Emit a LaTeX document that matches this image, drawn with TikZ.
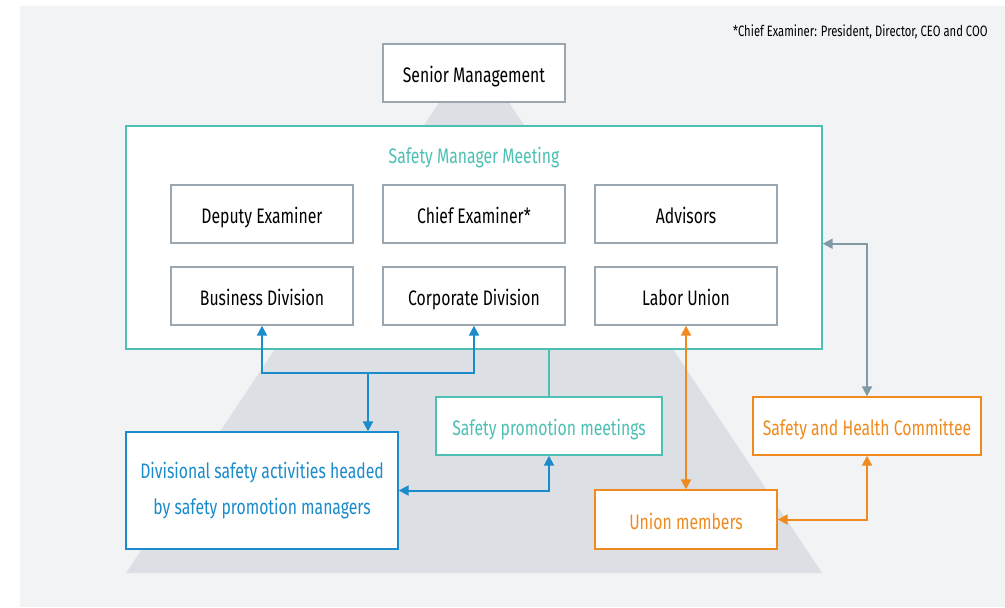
\documentclass[tikz,border=0pt]{standalone}
\usepackage{fontspec}
\setmainfont{Fira Sans}[FakeStretch=0.75]
\usetikzlibrary{arrows.meta,positioning}
\definecolor{bggray}{HTML}{F2F3F5}
\definecolor{pyramid}{HTML}{DCE0E4}
\definecolor{boxgray}{HTML}{9AA6B0}
\definecolor{tealc}{HTML}{4DC0B3}
\definecolor{bluec}{HTML}{1A8BCB}
\definecolor{orangec}{HTML}{EE8A1F}
\definecolor{slatec}{HTML}{8499A6}

\begin{document}
\begin{tikzpicture}[x=0.5pt,y=-0.5pt,
    frame/.style={draw=boxgray, fill=white, line width=0.7pt, inner sep=0pt, font=\fontsize{10.5}{12}\selectfont},
    box/.style={frame, minimum width=91pt, minimum height=29pt, text height=10.5pt, text depth=0.8pt},
    tealbox/.style={box, draw=tealc, text=tealc},
    bluebox/.style={frame, draw=bluec, text=bluec},
    orangebox/.style={box, draw=orangec, text=orangec},
    link/.style={line width=1pt, {Triangle[length=5pt,width=5pt]}-{Triangle[length=5pt,width=5pt]}}]
    % background and pyramid
    \useasboundingbox (0,0) rectangle (1005,607);
    \fill[bggray] (20,6) rectangle (1005,607);
    \fill[pyramid] (126,573) -- (474,50) -- (822,573) -- cycle;

    \node(senior) [box] at (474,73) {Senior Management};

    % safety manager meeting
    \node(meeting) [frame, draw=tealc, minimum width=348pt, minimum height=111.5pt] at (474,237.5) {};
    \node(title) [text=tealc, font=\fontsize{10.5}{12}\selectfont, text height=10.5pt, text depth=0.8pt, inner sep=0pt] at (474,154) {Safety Manager Meeting};
    \node(deputy) [box] at (262,214) {Deputy Examiner};
    \node(chief) [box] at (474,214) {Chief Examiner*};
    \node(advisors) [box] at (686,214) {Advisors};
    \node(business) [box] at (262,296) {Business Division};
    \node(corporate) [box] at (474,296) {Corporate Division};
    \node(labor) [box] at (686,296) {Labor Union};

    % lower boxes
    \node(promo) [tealbox, minimum width=113pt] at (549,426) {Safety promotion meetings};
    \node(divisional) [bluebox, minimum width=136pt, minimum height=58.5pt, align=center, font=\fontsize{10.5}{18}\selectfont] at (262,490.5) {Divisional safety activities headed\\by safety promotion managers};
    \node(committee) [orangebox, minimum width=114pt] at (867,426) {Safety and Health Committee};
    \node(union) [orangebox, minimum height=29.5pt] at (686,519.5) {Union members};

    \node(note) [anchor=east, font=\fontsize{7.5}{9}\selectfont, inner sep=0pt] at (988,32) {*Chief Examiner: President, Director, CEO and COO};

    % connectors
    \coordinate(split) at (368,373);
    \draw[link, bluec] (business.south) |- (split) -| (corporate.south);
    \draw[link, bluec, -{Triangle[length=5pt,width=5pt]}] (split) -- (split |- divisional.north);
    \draw[tealc, line width=0.8pt] (meeting.south -| promo.north) -- (promo.north);
    \draw[link, bluec] (promo.south) |- (divisional.east);
    \draw[link, orangec] (labor.south) -- (union.north);
    \draw[link, orangec] (committee.south) |- (union.east);
    \draw[link, slatec] (advisors.south -| meeting.east) -| (committee.north);
\end{tikzpicture}
\end{document}
